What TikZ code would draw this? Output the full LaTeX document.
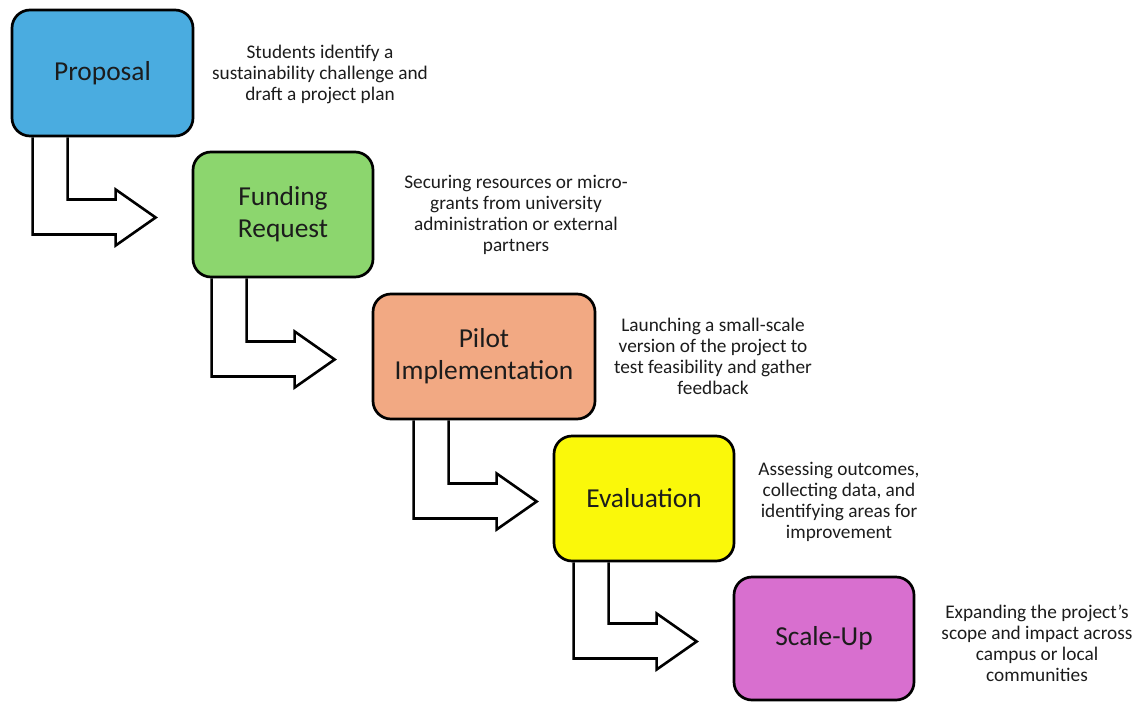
\documentclass[tikz,border=0pt]{standalone}
\usepackage{fontspec}
\setmainfont{Carlito}
\usetikzlibrary{calc,backgrounds}

\definecolor{propblue}{RGB}{74,172,224}
\definecolor{fundgreen}{RGB}{140,214,110}
\definecolor{pilotsalmon}{RGB}{242,169,131}
\definecolor{evalyellow}{RGB}{250,248,10}
\definecolor{scalemagenta}{RGB}{216,111,207}
\definecolor{inkdark}{RGB}{28,28,28}

\tikzset{
  stagebox/.style={draw=black, line width=2.7pt, rounded corners=18pt,
    minimum width=180pt, minimum height=125pt, align=center,
    text=inkdark, font=\fontsize{27.4}{32}\selectfont, inner sep=0pt},
  stagenote/.style={align=center, text=inkdark,
    font=\fontsize{19.3}{21}\selectfont, inner sep=0pt},
  flowarrow/.style={draw=black, fill=white, line width=2.6pt, line join=miter},
}

% hollow elbow arrow from the bottom of one stage to the left of the next
% #1 source stage, #2 target stage, #3 stem offset from the source's left edge
\newcommand\stagearrow[3]{%
  \draw[flowarrow] let \p1=(#1.south west), \p3=(#2.west) in
    (\x1+#3pt,\y1) -- (\x1+#3pt,\y3-20pt) -- (\x1+#3pt+83pt,\y3-20pt)
    -- (\x1+#3pt+83pt,\y3-31pt) -- (\x1+#3pt+123pt,\y3-3pt)
    -- (\x1+#3pt+83pt,\y3+25pt) -- (\x1+#3pt+83pt,\y3+15pt)
    -- (\x1+#3pt+35pt,\y3+15pt) -- (\x1+#3pt+35pt,\y1);%
}

\begin{document}
\begin{tikzpicture}[x=1pt,y=-1pt]
\useasboundingbox (0,0) rectangle (1142,701);

% stages
\node[stagebox, fill=propblue, minimum width=181pt, minimum height=126pt] (prop) at (102.5,73) {Proposal};
\node[stagebox, fill=fundgreen] (fund) at (283,214.5) {Funding\\Request};
\node[stagebox, fill=pilotsalmon, minimum width=222pt] (pilot) at (484,356.5) {Pilot\\Implementation};
\node[stagebox, fill=evalyellow] (eval) at (644,498.5) {Evaluation};
\node[stagebox, fill=scalemagenta, minimum height=123pt] (scale) at (824,638.5) {Scale-Up};

% descriptions
\node[stagenote] (propnote) at (320,74) {Students identify a\\sustainability challenge and\\draft a project plan};
\node[stagenote] (fundnote) at (516,215) {Securing resources or micro-\\grants from university\\administration or external\\partners};
\node[stagenote] (pilotnote) at (713,356.5) {Launching a small-scale\\version of the project to\\test feasibility and gather\\feedback};
\node[stagenote] (evalnote) at (839,502) {Assessing outcomes,\\collecting data, and\\identifying areas for\\improvement};
\node[stagenote] (scalenote) at (1037,643.5) {Expanding the project’s\\scope and impact across\\campus or local\\communities};

% connectors
\begin{pgfonlayer}{background}
\stagearrow{prop}{fund}{22}
\stagearrow{fund}{pilot}{20}
\stagearrow{pilot}{eval}{42}
\stagearrow{eval}{scale}{21}
\end{pgfonlayer}
\end{tikzpicture}
\end{document}
